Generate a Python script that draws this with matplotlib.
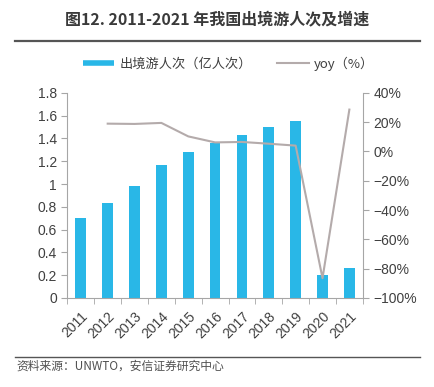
import matplotlib
matplotlib.use("Agg")
import matplotlib.pyplot as plt
from matplotlib.lines import Line2D

plt.rcParams['font.family'] = ['Liberation Sans', 'Noto Sans CJK SC', 'DejaVu Sans']

# data
years = ['2011', '2012', '2013', '2014', '2015', '2016', '2017', '2018', '2019', '2020', '2021']
trips = [0.70, 0.83, 0.98, 1.17, 1.28, 1.36, 1.43, 1.50, 1.55, 0.20, 0.26]  # 亿人次
yoy_years = years[1:]
yoy = [19.0, 18.8, 19.5, 10.3, 6.2, 6.5, 5.3, 4.0, -86.5, 28.6]  # %

bar_color = '#29b7e7'
line_color = '#b4abab'
axis_color = '#a6a6a6'
text_color = '#404040'

fig = plt.figure(figsize=(4.35, 3.87), dpi=100)

# title and rules
fig.text(0.5, 0.948, '图12. 2011-2021 年我国出境游人次及增速', ha='center', va='center',
         fontsize=11.5, fontweight='bold', color='#3a3a3a',
         family=['Noto Sans CJK SC', 'DejaVu Sans'])
fig.add_artist(Line2D([0.035, 0.965], [0.893, 0.893], color='#555555', lw=1.6))
fig.add_artist(Line2D([0.035, 0.965], [0.078, 0.078], color='#555555', lw=1.0))
fig.text(0.038, 0.053, '资料来源：UNWTO，安信证券研究中心', ha='left', va='center',
         fontsize=8.5, style='italic', color='#505050',
         family=['Noto Sans CJK SC', 'DejaVu Sans'])

ax = fig.add_axes([0.155, 0.230, 0.679, 0.530])
x = list(range(len(years)))
ax.bar(x, trips, width=0.4, color=bar_color, zorder=2)
ax.set_xlim(-0.5, len(years) - 0.5)
ax.set_ylim(0, 1.8)
ax.set_yticks([0, 0.2, 0.4, 0.6, 0.8, 1.0, 1.2, 1.4, 1.6, 1.8])
ax.set_yticklabels(['0', '0.2', '0.4', '0.6', '0.8', '1', '1.2', '1.4', '1.6', '1.8'])
ax.set_xticks(x)
ax.set_xticklabels(years, rotation=45, ha='right', rotation_mode='anchor')
ax.set_xticks([i - 0.5 for i in range(len(years) + 1)], minor=True)
ax.tick_params(axis='x', which='major', length=0, pad=8, labelsize=10, colors=text_color)
ax.tick_params(axis='x', which='minor', length=4, color=axis_color, direction='out')
ax.tick_params(axis='y', length=4, color=axis_color, labelsize=10, colors=text_color)
for s in ['top', 'right']:
    ax.spines[s].set_visible(False)
for s in ['left', 'bottom']:
    ax.spines[s].set_color(axis_color)

ax2 = ax.twinx()
ax2.plot([years.index(y) for y in yoy_years], yoy, color=line_color, lw=1.5, zorder=3)
ax2.set_ylim(-100, 40)
ax2.set_yticks(range(-100, 41, 20))
ax2.set_yticklabels(['\u2212100%', '\u221280%', '\u221260%', '\u221240%', '\u221220%', '0%', '20%', '40%'])
ax2.tick_params(axis='y', length=4, color=axis_color, labelsize=10, colors=text_color)
for s in ['top', 'left', 'bottom']:
    ax2.spines[s].set_visible(False)
ax2.spines['right'].set_color(axis_color)

handles = [Line2D([0], [0], color=bar_color, lw=4, solid_capstyle='butt'),
           Line2D([0], [0], color=line_color, lw=1.5)]
fig.legend(handles, ['出境游人次（亿人次）', 'yoy（%）'], loc='center', bbox_to_anchor=(0.525, 0.835),
           ncol=2, frameon=False, handlelength=2.4, handletextpad=0.4,
           columnspacing=1.9, labelcolor=text_color,
           prop={'family': ['Noto Sans CJK SC', 'DejaVu Sans'], 'size': 9.5})

fig.savefig('out.png', dpi=100)
